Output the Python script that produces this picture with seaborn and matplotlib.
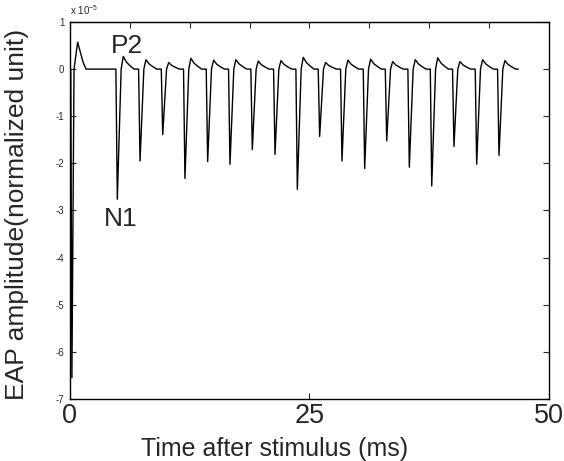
import numpy as np
import matplotlib
matplotlib.use('Agg')
import matplotlib.pyplot as plt
import seaborn as sns

# first response (stimulus artefact), in units of 1e-5
first_t = [0.0, 0.08, 0.2, 0.42, 0.8, 1.36, 1.67]
first_v = [0.0, 0.0, -6.55, 0.0, 0.57, 0.15, 0.0]

# later spikes: time of minimum (ms), depth and overshoot (x1e-5)
spike_t = [4.94, 7.31, 9.68, 12.0, 14.37, 16.70, 19.03, 21.40, 23.73,
           26.06, 28.39, 30.76, 33.06, 35.42, 37.76, 40.08, 42.45, 44.78]
spike_min = [-2.76, -1.95, -1.39, -2.32, -1.96, -2.02, -1.71, -1.81, -2.55,
             -1.43, -1.95, -2.11, -1.52, -2.08, -2.48, -1.64, -2.02, -1.83]
spike_peak = [0.27, 0.20, 0.14, 0.23, 0.19, 0.20, 0.17, 0.18, 0.25,
              0.14, 0.19, 0.21, 0.16, 0.20, 0.24, 0.16, 0.20, 0.18]
end_t = 46.8

# shape of one spike (time offset from the minimum)
shape_dt = [-0.15, 0.0, 0.4, 0.62, 0.95, 1.35, 1.75]

t = list(first_t)
v = list(first_v)
for tm, mn, pk in zip(spike_t, spike_min, spike_peak):
    vals = [0.0, mn, 0.0, pk, 0.55 * pk, 0.25 * pk, 0.0]
    for dt, val in zip(shape_dt, vals):
        t.append(tm + dt)
        v.append(val)
t.append(end_t)
v.append(0.0)

sns.set_style('white')
plt.rcParams['font.family'] = ['Liberation Sans', 'DejaVu Sans']
plt.rcParams['axes.unicode_minus'] = False
plt.rcParams['mathtext.fontset'] = 'custom'
plt.rcParams['mathtext.rm'] = 'Liberation Sans'

fig = plt.figure(figsize=(5.64, 4.61), dpi=100)
ax = fig.add_axes([0.1241, 0.1345, 0.8493, 0.8178])

sns.lineplot(x=t, y=v, sort=False, estimator=None, color='black', linewidth=1.0, ax=ax)

ax.set_xlim(0, 50)
ax.set_ylim(-7, 1)
for s in ax.spines.values():
    s.set_color('black')
    s.set_linewidth(1.0)

ax.set_xticks([0, 25, 50])
ax.set_xticklabels(['0', '25', '50'], fontsize=19.5)
ax.set_yticks(range(-7, 2))
ax.set_yticklabels([str(i) for i in range(-7, 2)], fontsize=7)
ax.tick_params(axis='x', direction='in', length=4, width=0.8, pad=3, bottom=True, top=False)
ax.tick_params(axis='y', direction='in', length=4, width=0.8, pad=4, left=True, right=True)

top = ax.secondary_xaxis('top')
top.set_xticks([6.25 * k for k in range(1, 8)])
top.set_xticklabels([])
top.tick_params(direction='in', length=4, width=0.8)

ax.text(0, 1.012, 'x 10$^{-5}$', transform=ax.transAxes, fontsize=7, ha='left', va='bottom')

ax.text(5.95, 0.34, 'P2', fontsize=19, ha='center', va='baseline')
ax.text(5.32, -3.32, 'N1', fontsize=19, ha='center', va='baseline')

ax.set_xlabel('Time after stimulus (ms)', fontsize=18)
ax.set_ylabel('EAP amplitude(normalized unit)', fontsize=19)
ax.xaxis.set_label_coords(0.428, -0.1)
ax.yaxis.set_label_coords(-0.085, 0.489)

fig.savefig('out.png', dpi=100)
